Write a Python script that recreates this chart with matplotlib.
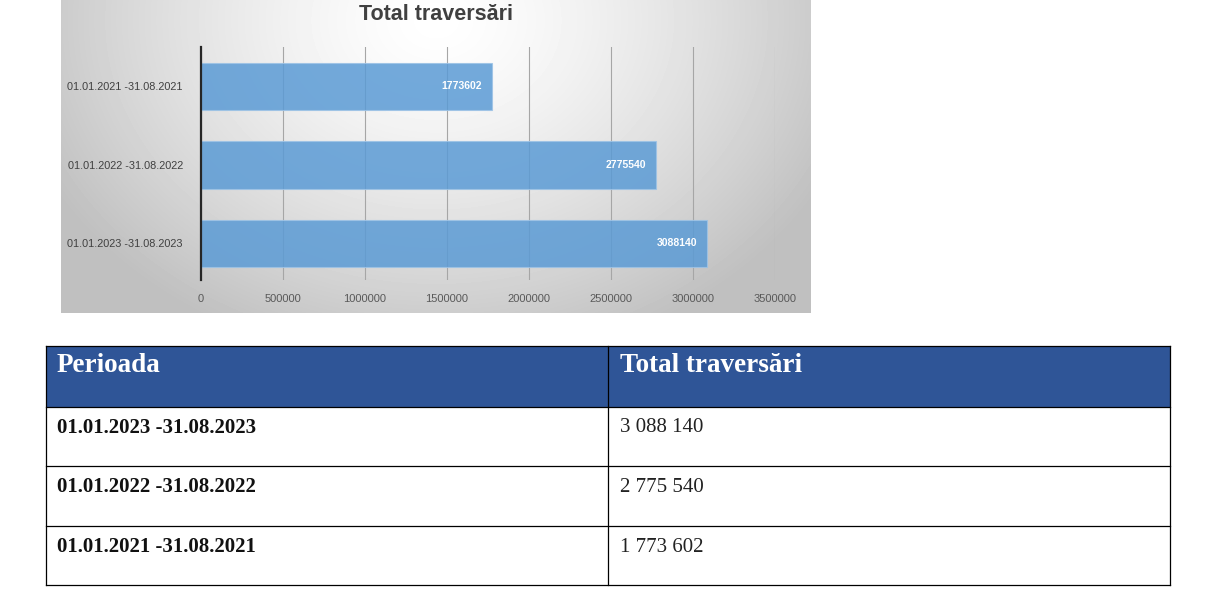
import numpy as np
import matplotlib
matplotlib.use('Agg')
import matplotlib.pyplot as plt
from matplotlib.patches import Rectangle

# date
perioade = ['01.01.2021 -31.08.2021', '01.01.2022 -31.08.2022', '01.01.2023 -31.08.2023']
traversari = [1773602, 2775540, 3088140]
x_ticks = [0, 500000, 1000000, 1500000, 2000000, 2500000, 3000000, 3500000]
titlu = 'Total traversări'
antet = ['Perioada', 'Total traversări']

W, H = 1216, 595
SANS = ['Liberation Sans Narrow', 'Liberation Sans', 'DejaVu Sans']
SERIF = ['Liberation Serif', 'DejaVu Serif']


def px(x0, y0, x1, y1):
    # pozitie in pixeli -> coordonate figura
    return [x0 / W, 1 - y1 / H, (x1 - x0) / W, (y1 - y0) / H]


fig = plt.figure(figsize=(W / 100, H / 100), dpi=100)
fig.patch.set_facecolor('white')

# fundal cu gradient radial (imaginea graficului)
bg = fig.add_axes(px(61, 0, 811, 313))
yy, xx = np.mgrid[0:313, 0:750]
d = np.sqrt(((xx - 375) / 440.0) ** 2 + ((yy - 20) / 350.0) ** 2)
g = np.clip(1.0 - 0.25 * d ** 1.4, 0.75, 1.0)
bg.imshow(g, cmap='gray', vmin=0, vmax=1, aspect='auto', interpolation='bilinear')
bg.axis('off')

# graficul cu bare orizontale
ax = fig.add_axes(px(201, 47, 775, 280))
ax.set_facecolor('none')
pos = np.arange(len(perioade))
bars = ax.barh(pos, traversari, height=0.6, color='#5B9BD5', alpha=0.85,
               edgecolor='#9DC3E6', linewidth=0.8, zorder=3)
ax.set_xlim(0, 3500000)
ax.set_ylim(2.465, -0.503)
ax.set_xticks(x_ticks)
ax.set_xticklabels([str(t) for t in x_ticks], family=SANS, fontsize=8, color='#595959')
ax.set_yticks(pos)
ax.set_yticklabels(perioade, family=SANS, fontsize=7.8, color='#404040')
ax.tick_params(length=0, pad=10, axis='x')
ax.tick_params(length=0, pad=13, axis='y')
ax.grid(axis='x', color='#a6a6a6', linewidth=0.8, zorder=1)
for s in ['top', 'right', 'bottom']:
    ax.spines[s].set_visible(False)
ax.spines['left'].set_color('#262626')
ax.spines['left'].set_linewidth(1.6)
ax.spines['left'].set_zorder(4)

for b, v in zip(bars, traversari):
    ax.text(v - 60000, b.get_y() + b.get_height() / 2, str(v), ha='right', va='center',
            color='white', fontsize=7.5, fontweight='bold', family=SANS, zorder=5)

fig.text(436 / W, 1 - 15 / H, titlu, ha='center', va='center', fontsize=15.5,
         fontweight='bold', color='#404040', family=SANS)

# tabelul de sub grafic
tb = fig.add_axes([0, 0, 1, 1])
tb.set_xlim(0, W)
tb.set_ylim(H, 0)
tb.axis('off')

x0, xm, x1 = 46, 608, 1170
rand_y = [346, 407, 466, 526, 585]
tb.add_patch(Rectangle((x0, rand_y[0]), x1 - x0, rand_y[1] - rand_y[0],
                       facecolor='#2F5597', edgecolor='none'))
for y in rand_y:
    tb.plot([x0, x1], [y, y], color='black', linewidth=0.9)
for x in [x0, xm, x1]:
    tb.plot([x, x], [rand_y[0], rand_y[-1]], color='black', linewidth=0.9)

tb.text(x0 + 11, 366, antet[0], ha='left', va='center', fontsize=19.5,
        fontweight='bold', color='white', family=SERIF)
tb.text(xm + 12, 366, antet[1], ha='left', va='center', fontsize=19.5,
        fontweight='bold', color='white', family=SERIF)

for i, (p, v) in enumerate(zip(perioade[::-1], traversari[::-1])):
    yc = rand_y[i + 1] + 21
    tb.text(x0 + 11, yc, p, ha='left', va='center', fontsize=15,
            fontweight='bold', color='#111111', family=SERIF)
    tb.text(xm + 12, yc, f'{v:,}'.replace(',', ' '), ha='left', va='center',
            fontsize=15, color='#222222', family=SERIF)

fig.savefig('out.png', dpi=100, facecolor='white')
